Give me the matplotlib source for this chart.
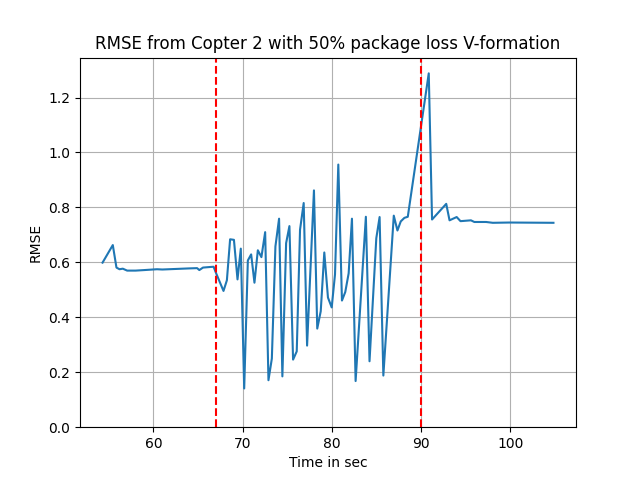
import matplotlib
matplotlib.use("Agg")
import matplotlib.pyplot as plt

# time stamps (s) and RMSE values
time = [54.3, 55.45, 55.86, 56.2, 56.57, 57.06, 58.0, 59.0, 60.4, 61.0, 62.5, 64.0, 64.9,
        65.15, 65.56, 66.3, 66.75, 67.05, 67.86, 68.24, 68.6, 69.03, 69.43, 69.8,
        70.18, 70.59, 70.96, 71.33, 71.71, 72.11, 72.53, 72.9, 73.28, 73.68, 74.09,
        74.46, 74.88, 75.25, 75.66, 76.07, 76.44, 76.85, 77.23, 78.0, 78.37,
        78.76, 79.16, 79.57, 79.99, 80.36, 80.73, 81.14, 81.51, 81.89, 82.26, 82.67,
        83.82, 84.23, 84.99, 85.36, 85.78, 86.95, 87.36,
        87.73, 88.14, 88.52, 90.87, 91.24, 92.83, 93.2, 94.0, 94.43, 95.6, 95.98,
        97.3, 98.05, 99.9, 104.85]
rmse = [0.599, 0.663, 0.581, 0.575, 0.577, 0.570, 0.570, 0.572, 0.575, 0.574, 0.576, 0.578, 0.579,
        0.572, 0.581, 0.583, 0.584, 0.559, 0.496, 0.535, 0.684, 0.682, 0.538, 0.650,
        0.141, 0.607, 0.629, 0.526, 0.644, 0.619, 0.710, 0.171, 0.250, 0.658, 0.759,
        0.185, 0.670, 0.732, 0.246, 0.276, 0.719, 0.816, 0.297, 0.862, 0.359,
        0.422, 0.636, 0.472, 0.436, 0.556, 0.956, 0.461, 0.492, 0.560, 0.759, 0.168,
        0.766, 0.240, 0.688, 0.765, 0.188, 0.770, 0.716,
        0.749, 0.762, 0.766, 1.288, 0.756, 0.813, 0.753, 0.765, 0.750, 0.753, 0.747,
        0.747, 0.744, 0.745, 0.744]

event_times = [67, 90]

fig, ax = plt.subplots(figsize=(6.4, 4.8), dpi=100)
ax.plot(time, rmse)
for t in event_times:
    ax.axvline(t, color="r", linestyle="--")
ax.set_ylim(bottom=0)
ax.set_title("RMSE from Copter 2 with 50% package loss V-formation")
ax.set_xlabel("Time in sec")
ax.set_ylabel("RMSE")
ax.grid(True)
fig.savefig("out.png")
